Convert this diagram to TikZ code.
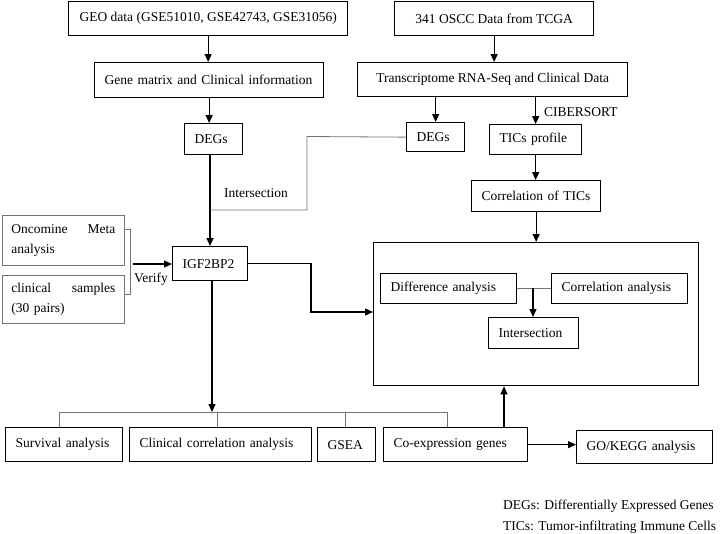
\documentclass[tikz,border=0pt]{standalone}
\usepackage{fontspec}
\setmainfont{Liberation Serif}
\usetikzlibrary{arrows.meta}
\begin{document}
\begin{tikzpicture}[x=1pt,y=-1pt,
  fs/.style={font=\fontsize{13.5}{16}\selectfont},
  bx/.style={draw, line width=1.3pt, anchor=north west, inner xsep=10pt, inner ysep=1pt, align=left, fs},
  cbx/.style={draw, line width=1.3pt, anchor=north west, inner xsep=0pt, inner ysep=1pt, align=center, fs},
  gbx/.style={draw=black!55, line width=0.9pt, anchor=north west, inner xsep=9pt, inner ysep=1pt, align=left, font=\fontsize{13.5}{20}\selectfont},
  arr/.style={line width=1.2pt, -{Triangle[length=8pt,width=7pt]}},
  gline/.style={draw=black!55, line width=0.8pt},
  lbl/.style={anchor=west, inner sep=0pt, fs}]
\useasboundingbox (0,0) rectangle (720,533);
% top boxes
\node[cbx, minimum width=279pt, minimum height=34pt] (geo) at (68,1) {GEO data (GSE51010, GSE42743, GSE31056)};
\node[bx, text width=209pt, minimum height=35pt] (gene) at (94,62) {Gene matrix and Clinical information};
\node[bx, text width=38pt, minimum height=31pt] (degsL) at (184,123) {DEGs};
\node[cbx, minimum width=199pt, minimum height=34pt] (oscc) at (394,1) {341 OSCC Data from TCGA};
\node[cbx, minimum width=270pt, minimum height=34pt] (trans) at (357,62) {Transcriptome RNA-Seq and Clinical Data};
\node[bx, text width=38pt, minimum height=29pt] (degsR) at (406,122) {DEGs};
\node[bx, text width=72pt, minimum height=30pt] (tics) at (489,124) {TICs profile};
\node[bx, text width=109pt, minimum height=31pt] (corr) at (471,180) {Correlation of TICs};
% big box
\node[draw, line width=1.3pt, anchor=north west, minimum width=325pt, minimum height=143pt, inner sep=0pt] (big) at (373,242) {};
\node[bx, text width=116pt, minimum height=30pt] (diff) at (380,273) {Difference analysis};
\node[bx, text width=116pt, minimum height=30pt] (corra) at (551,273) {Correlation analysis};
\node[bx, text width=70pt, minimum height=31pt] (inter) at (488,317) {Intersection};
% middle left
\node[bx, text width=55pt, minimum height=34pt] (igf) at (172,246) {IGF2BP2};
\node[gbx, text width=104pt, minimum height=50pt] (onco) at (2,215) {Oncomine\hfill Meta\\analysis};
\node[gbx, text width=104pt, minimum height=48pt] (clin) at (2,275) {clinical\hfill samples\\(30 pairs)};
% bottom
\node[bx, text width=97pt, minimum height=34pt] (surv) at (5,427) {Survival analysis};
\node[bx, text width=162pt, minimum height=34pt] (clinc) at (129,427) {Clinical correlation analysis};
\node[bx, text width=38pt, minimum height=34pt] (gsea) at (317,427) {GSEA};
\node[bx, text width=124pt, minimum height=34pt] (coex) at (383,427) {Co-expression genes};
\node[bx, text width=116pt, minimum height=33pt] (go) at (576,430) {GO/KEGG analysis};
% labels
\node[lbl] (lcib) at (544,112) {CIBERSORT};
\node[lbl] (lint) at (224,193) {Intersection};
\node[lbl] (lver) at (134,279) {Verify};
\node[lbl] (leg1) at (503,506) {DEGs: Differentially Expressed Genes};
\node[lbl] (leg2) at (503,527) {TICs: Tumor-infiltrating Immune Cells};
% coordinates
\coordinate (j) at (210,210);
\coordinate (k) at (307,136.5);
\coordinate (br1) at (130,229);
\coordinate (br2) at (130,294);
\coordinate (va) at (133,264);
\coordinate (bend) at (311,312);
\coordinate (bus) at (212,412);
\coordinate (bL) at (59,412);
\coordinate (t2) at (217,412);
\coordinate (t3) at (345,412);
\coordinate (bR) at (447,412);
\coordinate (cu) at (504,427);
\coordinate (dm) at (533,288);
\coordinate (dl) at (210,154);
% connectors
\draw[arr] (geo.south) -- (geo.south |- gene.north);
\draw[arr] (gene.south) -- (gene.south |- degsL.north);
\draw[arr] (dl) -- (dl |- igf.north);
\draw[arr] (oscc.south) -- (oscc.south |- trans.north);
\draw[arr] (degsR.north |- trans.south) -- (degsR.north);
\draw[arr] (tics.north |- trans.south) -- (tics.north);
\draw[arr] (tics.south) -- (tics.south |- corr.north);
\draw[arr] (corr.south) -- (corr.south |- big.north);
\draw[gline] (j) -| (k) -- (degsR.west);
\draw[gline] (onco.east |- br1) -- (br1) -- (br2) -- (br2 -| clin.east);
\draw[arr] (va) -- (va -| igf.west);
\draw[arr] (igf.east) -| (bend) -- (bend -| big.west);
\draw[arr] (igf.south -| bus) -- (bus);
\draw[gline] (bL |- surv.north) -- (bL) -- (bR) -- (bR |- coex.north);
\draw[gline] (t2) -- (t2 |- clinc.north);
\draw[gline] (t3) -- (t3 |- gsea.north);
\draw[arr] (cu) -- (cu |- big.south);
\draw[arr] (coex.east) -- (coex.east -| go.west);
\draw[gline] (diff.east |- dm) -- (corra.west |- dm);
\draw[arr] (dm) -- (dm |- inter.north);
\end{tikzpicture}
\end{document}
